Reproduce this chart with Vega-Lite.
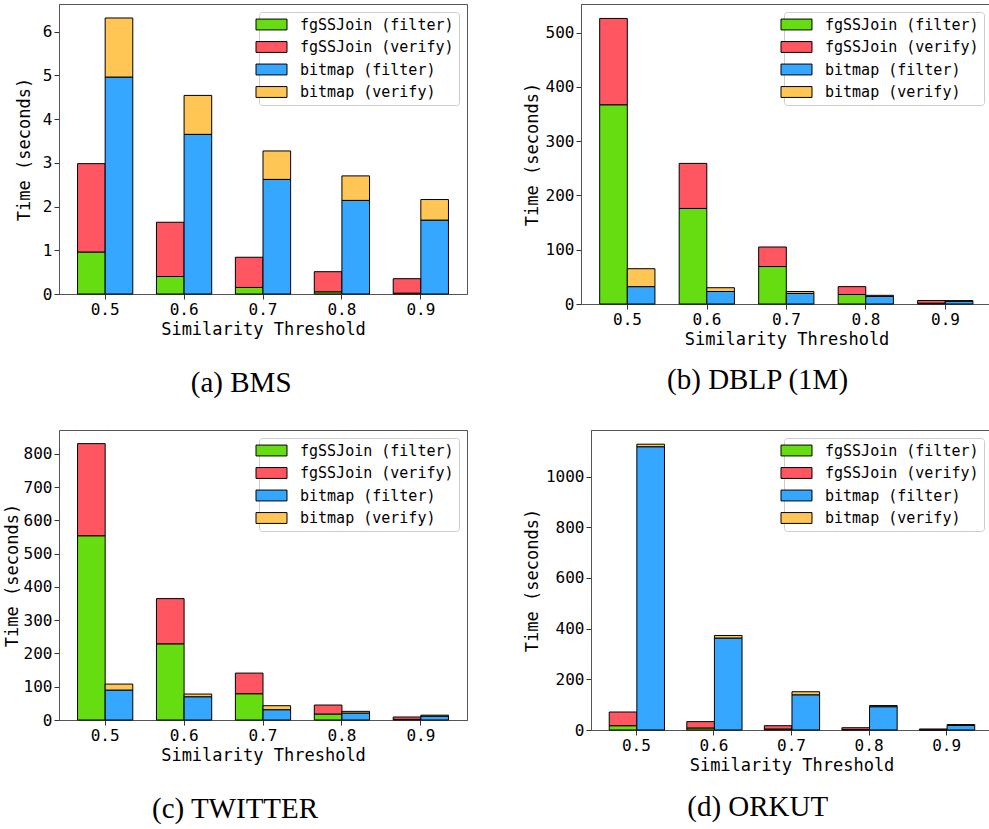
{
  "$schema": "https://vega.github.io/schema/vega-lite/v6.json",
  "padding": {"left": 2, "top": 3, "right": 0, "bottom": 0},
  "background": "white",
  "datasets": {
    "bms": [
      {"t": "0.5", "method": "fgSSJoin", "phase": "filter", "series": "fgSSJoin (filter)", "value": 0.96},
      {"t": "0.5", "method": "fgSSJoin", "phase": "verify", "series": "fgSSJoin (verify)", "value": 2.02},
      {"t": "0.5", "method": "bitmap", "phase": "filter", "series": "bitmap (filter)", "value": 4.96},
      {"t": "0.5", "method": "bitmap", "phase": "verify", "series": "bitmap (verify)", "value": 1.35},
      {"t": "0.6", "method": "fgSSJoin", "phase": "filter", "series": "fgSSJoin (filter)", "value": 0.40},
      {"t": "0.6", "method": "fgSSJoin", "phase": "verify", "series": "fgSSJoin (verify)", "value": 1.24},
      {"t": "0.6", "method": "bitmap", "phase": "filter", "series": "bitmap (filter)", "value": 3.65},
      {"t": "0.6", "method": "bitmap", "phase": "verify", "series": "bitmap (verify)", "value": 0.89},
      {"t": "0.7", "method": "fgSSJoin", "phase": "filter", "series": "fgSSJoin (filter)", "value": 0.15},
      {"t": "0.7", "method": "fgSSJoin", "phase": "verify", "series": "fgSSJoin (verify)", "value": 0.69},
      {"t": "0.7", "method": "bitmap", "phase": "filter", "series": "bitmap (filter)", "value": 2.62},
      {"t": "0.7", "method": "bitmap", "phase": "verify", "series": "bitmap (verify)", "value": 0.65},
      {"t": "0.8", "method": "fgSSJoin", "phase": "filter", "series": "fgSSJoin (filter)", "value": 0.05},
      {"t": "0.8", "method": "fgSSJoin", "phase": "verify", "series": "fgSSJoin (verify)", "value": 0.46},
      {"t": "0.8", "method": "bitmap", "phase": "filter", "series": "bitmap (filter)", "value": 2.14},
      {"t": "0.8", "method": "bitmap", "phase": "verify", "series": "bitmap (verify)", "value": 0.56},
      {"t": "0.9", "method": "fgSSJoin", "phase": "filter", "series": "fgSSJoin (filter)", "value": 0.02},
      {"t": "0.9", "method": "fgSSJoin", "phase": "verify", "series": "fgSSJoin (verify)", "value": 0.33},
      {"t": "0.9", "method": "bitmap", "phase": "filter", "series": "bitmap (filter)", "value": 1.69},
      {"t": "0.9", "method": "bitmap", "phase": "verify", "series": "bitmap (verify)", "value": 0.47}
    ],
    "dblp": [
      {"t": "0.5", "method": "fgSSJoin", "phase": "filter", "series": "fgSSJoin (filter)", "value": 367},
      {"t": "0.5", "method": "fgSSJoin", "phase": "verify", "series": "fgSSJoin (verify)", "value": 159},
      {"t": "0.5", "method": "bitmap", "phase": "filter", "series": "bitmap (filter)", "value": 32},
      {"t": "0.5", "method": "bitmap", "phase": "verify", "series": "bitmap (verify)", "value": 33},
      {"t": "0.6", "method": "fgSSJoin", "phase": "filter", "series": "fgSSJoin (filter)", "value": 176},
      {"t": "0.6", "method": "fgSSJoin", "phase": "verify", "series": "fgSSJoin (verify)", "value": 83},
      {"t": "0.6", "method": "bitmap", "phase": "filter", "series": "bitmap (filter)", "value": 23},
      {"t": "0.6", "method": "bitmap", "phase": "verify", "series": "bitmap (verify)", "value": 7},
      {"t": "0.7", "method": "fgSSJoin", "phase": "filter", "series": "fgSSJoin (filter)", "value": 69},
      {"t": "0.7", "method": "fgSSJoin", "phase": "verify", "series": "fgSSJoin (verify)", "value": 36},
      {"t": "0.7", "method": "bitmap", "phase": "filter", "series": "bitmap (filter)", "value": 19.5},
      {"t": "0.7", "method": "bitmap", "phase": "verify", "series": "bitmap (verify)", "value": 3.5},
      {"t": "0.8", "method": "fgSSJoin", "phase": "filter", "series": "fgSSJoin (filter)", "value": 17.5},
      {"t": "0.8", "method": "fgSSJoin", "phase": "verify", "series": "fgSSJoin (verify)", "value": 14.5},
      {"t": "0.8", "method": "bitmap", "phase": "filter", "series": "bitmap (filter)", "value": 14},
      {"t": "0.8", "method": "bitmap", "phase": "verify", "series": "bitmap (verify)", "value": 2},
      {"t": "0.9", "method": "fgSSJoin", "phase": "filter", "series": "fgSSJoin (filter)", "value": 1.5},
      {"t": "0.9", "method": "fgSSJoin", "phase": "verify", "series": "fgSSJoin (verify)", "value": 5},
      {"t": "0.9", "method": "bitmap", "phase": "filter", "series": "bitmap (filter)", "value": 5},
      {"t": "0.9", "method": "bitmap", "phase": "verify", "series": "bitmap (verify)", "value": 1.2}
    ],
    "twitter": [
      {"t": "0.5", "method": "fgSSJoin", "phase": "filter", "series": "fgSSJoin (filter)", "value": 554},
      {"t": "0.5", "method": "fgSSJoin", "phase": "verify", "series": "fgSSJoin (verify)", "value": 277},
      {"t": "0.5", "method": "bitmap", "phase": "filter", "series": "bitmap (filter)", "value": 90},
      {"t": "0.5", "method": "bitmap", "phase": "verify", "series": "bitmap (verify)", "value": 18},
      {"t": "0.6", "method": "fgSSJoin", "phase": "filter", "series": "fgSSJoin (filter)", "value": 229},
      {"t": "0.6", "method": "fgSSJoin", "phase": "verify", "series": "fgSSJoin (verify)", "value": 136},
      {"t": "0.6", "method": "bitmap", "phase": "filter", "series": "bitmap (filter)", "value": 70},
      {"t": "0.6", "method": "bitmap", "phase": "verify", "series": "bitmap (verify)", "value": 8},
      {"t": "0.7", "method": "fgSSJoin", "phase": "filter", "series": "fgSSJoin (filter)", "value": 79},
      {"t": "0.7", "method": "fgSSJoin", "phase": "verify", "series": "fgSSJoin (verify)", "value": 62},
      {"t": "0.7", "method": "bitmap", "phase": "filter", "series": "bitmap (filter)", "value": 31},
      {"t": "0.7", "method": "bitmap", "phase": "verify", "series": "bitmap (verify)", "value": 12},
      {"t": "0.8", "method": "fgSSJoin", "phase": "filter", "series": "fgSSJoin (filter)", "value": 18},
      {"t": "0.8", "method": "fgSSJoin", "phase": "verify", "series": "fgSSJoin (verify)", "value": 27},
      {"t": "0.8", "method": "bitmap", "phase": "filter", "series": "bitmap (filter)", "value": 21},
      {"t": "0.8", "method": "bitmap", "phase": "verify", "series": "bitmap (verify)", "value": 5},
      {"t": "0.9", "method": "fgSSJoin", "phase": "filter", "series": "fgSSJoin (filter)", "value": 2},
      {"t": "0.9", "method": "fgSSJoin", "phase": "verify", "series": "fgSSJoin (verify)", "value": 7},
      {"t": "0.9", "method": "bitmap", "phase": "filter", "series": "bitmap (filter)", "value": 11.5},
      {"t": "0.9", "method": "bitmap", "phase": "verify", "series": "bitmap (verify)", "value": 3}
    ],
    "orkut": [
      {"t": "0.5", "method": "fgSSJoin", "phase": "filter", "series": "fgSSJoin (filter)", "value": 17},
      {"t": "0.5", "method": "fgSSJoin", "phase": "verify", "series": "fgSSJoin (verify)", "value": 54},
      {"t": "0.5", "method": "bitmap", "phase": "filter", "series": "bitmap (filter)", "value": 1118},
      {"t": "0.5", "method": "bitmap", "phase": "verify", "series": "bitmap (verify)", "value": 10},
      {"t": "0.6", "method": "fgSSJoin", "phase": "filter", "series": "fgSSJoin (filter)", "value": 8},
      {"t": "0.6", "method": "fgSSJoin", "phase": "verify", "series": "fgSSJoin (verify)", "value": 25},
      {"t": "0.6", "method": "bitmap", "phase": "filter", "series": "bitmap (filter)", "value": 363},
      {"t": "0.6", "method": "bitmap", "phase": "verify", "series": "bitmap (verify)", "value": 10},
      {"t": "0.7", "method": "fgSSJoin", "phase": "filter", "series": "fgSSJoin (filter)", "value": 4},
      {"t": "0.7", "method": "fgSSJoin", "phase": "verify", "series": "fgSSJoin (verify)", "value": 13},
      {"t": "0.7", "method": "bitmap", "phase": "filter", "series": "bitmap (filter)", "value": 139},
      {"t": "0.7", "method": "bitmap", "phase": "verify", "series": "bitmap (verify)", "value": 12},
      {"t": "0.8", "method": "fgSSJoin", "phase": "filter", "series": "fgSSJoin (filter)", "value": 1.5},
      {"t": "0.8", "method": "fgSSJoin", "phase": "verify", "series": "fgSSJoin (verify)", "value": 7.5},
      {"t": "0.8", "method": "bitmap", "phase": "filter", "series": "bitmap (filter)", "value": 92},
      {"t": "0.8", "method": "bitmap", "phase": "verify", "series": "bitmap (verify)", "value": 4.5},
      {"t": "0.9", "method": "fgSSJoin", "phase": "filter", "series": "fgSSJoin (filter)", "value": 0.8},
      {"t": "0.9", "method": "fgSSJoin", "phase": "verify", "series": "fgSSJoin (verify)", "value": 3.2},
      {"t": "0.9", "method": "bitmap", "phase": "filter", "series": "bitmap (filter)", "value": 18},
      {"t": "0.9", "method": "bitmap", "phase": "verify", "series": "bitmap (verify)", "value": 3.5}
    ]
  },
  "columns": 2,
  "align": "none",
  "spacing": {"row": 30, "column": 54},
  "concat": [
    {
      "data": {"name": "bms"},
      "width": 408, "height": 290,
      "title": {"text": "(a) BMS", "offset": 32},
      "mark": {"type": "bar"},
      "encoding": {
        "x": {"field": "t", "type": "nominal", "scale": {"paddingInner": 0.3, "paddingOuter": 0.235}, "axis": {"title": "Similarity Threshold"}},
        "xOffset": {"field": "method", "type": "nominal", "scale": {"domain": ["fgSSJoin", "bitmap"], "paddingInner": 0, "paddingOuter": 0}},
        "y": {"field": "value", "type": "quantitative", "stack": "zero", "scale": {"domain": [0, 6.63], "nice": false}, "axis": {"title": "Time (seconds)", "values": [0, 1, 2, 3, 4, 5, 6], "format": "d", "titlePadding": 9}},
        "color": {"field": "series", "type": "nominal", "scale": {"domain": ["fgSSJoin (filter)", "fgSSJoin (verify)", "bitmap (filter)", "bitmap (verify)"], "range": ["#66dd11", "#ff5662", "#36a7ff", "#ffc655"]}, "legend": {"title": null, "orient": "top-right", "offset": 8}},
        "order": {"field": "phase", "sort": "ascending"}
      }
    },
    {
      "data": {"name": "dblp"},
      "width": 411, "height": 300,
      "title": {"text": "(b) DBLP (1M)", "offset": 19},
      "mark": {"type": "bar"},
      "encoding": {
        "x": {"field": "t", "type": "nominal", "scale": {"paddingInner": 0.3, "paddingOuter": 0.235}, "axis": {"title": "Similarity Threshold"}},
        "xOffset": {"field": "method", "type": "nominal", "scale": {"domain": ["fgSSJoin", "bitmap"], "paddingInner": 0, "paddingOuter": 0}},
        "y": {"field": "value", "type": "quantitative", "stack": "zero", "scale": {"domain": [0, 552.6], "nice": false}, "axis": {"title": "Time (seconds)", "values": [0, 100, 200, 300, 400, 500], "format": "d"}},
        "color": {"field": "series", "type": "nominal", "scale": {"domain": ["fgSSJoin (filter)", "fgSSJoin (verify)", "bitmap (filter)", "bitmap (verify)"], "range": ["#66dd11", "#ff5662", "#36a7ff", "#ffc655"]}, "legend": {"title": null, "orient": "top-right", "offset": 8}},
        "order": {"field": "phase", "sort": "ascending"}
      }
    },
    {
      "data": {"name": "twitter"},
      "width": 408, "height": 290,
      "title": {"text": "(c) TWITTER", "offset": 32},
      "mark": {"type": "bar"},
      "encoding": {
        "x": {"field": "t", "type": "nominal", "scale": {"paddingInner": 0.3, "paddingOuter": 0.235}, "axis": {"title": "Similarity Threshold"}},
        "xOffset": {"field": "method", "type": "nominal", "scale": {"domain": ["fgSSJoin", "bitmap"], "paddingInner": 0, "paddingOuter": 0}},
        "y": {"field": "value", "type": "quantitative", "stack": "zero", "scale": {"domain": [0, 872], "nice": false}, "axis": {"title": "Time (seconds)", "values": [0, 100, 200, 300, 400, 500, 600, 700, 800], "format": "d", "titlePadding": 2}},
        "color": {"field": "series", "type": "nominal", "scale": {"domain": ["fgSSJoin (filter)", "fgSSJoin (verify)", "bitmap (filter)", "bitmap (verify)"], "range": ["#66dd11", "#ff5662", "#36a7ff", "#ffc655"]}, "legend": {"title": null, "orient": "top-right", "offset": 8}},
        "order": {"field": "phase", "sort": "ascending"}
      }
    },
    {
      "data": {"name": "orkut"},
      "width": 401, "height": 300,
      "title": {"text": "(d) ORKUT", "offset": 20},
      "mark": {"type": "bar"},
      "encoding": {
        "x": {"field": "t", "type": "nominal", "scale": {"paddingInner": 0.3, "paddingOuter": 0.235}, "axis": {"title": "Similarity Threshold"}},
        "xOffset": {"field": "method", "type": "nominal", "scale": {"domain": ["fgSSJoin", "bitmap"], "paddingInner": 0, "paddingOuter": 0}},
        "y": {"field": "value", "type": "quantitative", "stack": "zero", "scale": {"domain": [0, 1184], "nice": false}, "axis": {"title": "Time (seconds)", "values": [0, 200, 400, 600, 800, 1000], "format": "d"}},
        "color": {"field": "series", "type": "nominal", "scale": {"domain": ["fgSSJoin (filter)", "fgSSJoin (verify)", "bitmap (filter)", "bitmap (verify)"], "range": ["#66dd11", "#ff5662", "#36a7ff", "#ffc655"]}, "legend": {"title": null, "orient": "top-right", "offset": 8}},
        "order": {"field": "phase", "sort": "ascending"}
      }
    }
  ],
  "resolve": {"scale": {"color": "independent"}, "legend": {"color": "independent"}},
  "config": {
    "font": "DejaVu Sans Mono",
    "view": {"stroke": "#555", "strokeWidth": 1},
    "bar": {"stroke": "black", "strokeWidth": 1, "opacity": 1},
    "axis": {
      "labelFont": "DejaVu Sans Mono", "labelFontSize": 16, "labelColor": "black",
      "titleFont": "DejaVu Sans Mono", "titleFontSize": 17, "titleFontWeight": "normal", "titleColor": "black",
      "tickColor": "#333", "tickSize": 5, "ticks": true, "domainColor": "#555", "grid": false,
      "labelPadding": 2, "titlePadding": 4
    },
    "axisX": {"labelAngle": 0},
    "legend": {
      "padding": 5,
      "strokeColor": "#cccccc", "fillColor": "white", "cornerRadius": 3,
      "labelFont": "DejaVu Sans Mono", "labelFontSize": 15, "labelColor": "black", "labelLimit": 300,
      "symbolType": "M-2.214,-0.775L2.214,-0.775L2.214,0.775L-2.214,0.775Z", "symbolSize": 196,
      "symbolStrokeColor": "black", "symbolStrokeWidth": 1, "symbolOpacity": 1,
      "labelOffset": 21, "rowPadding": 6.5
    },
    "title": {
      "font": "Liberation Serif", "fontSize": 29, "fontWeight": "normal", "color": "black",
      "orient": "bottom", "anchor": "middle", "frame": "bounds"
    }
  }
}
